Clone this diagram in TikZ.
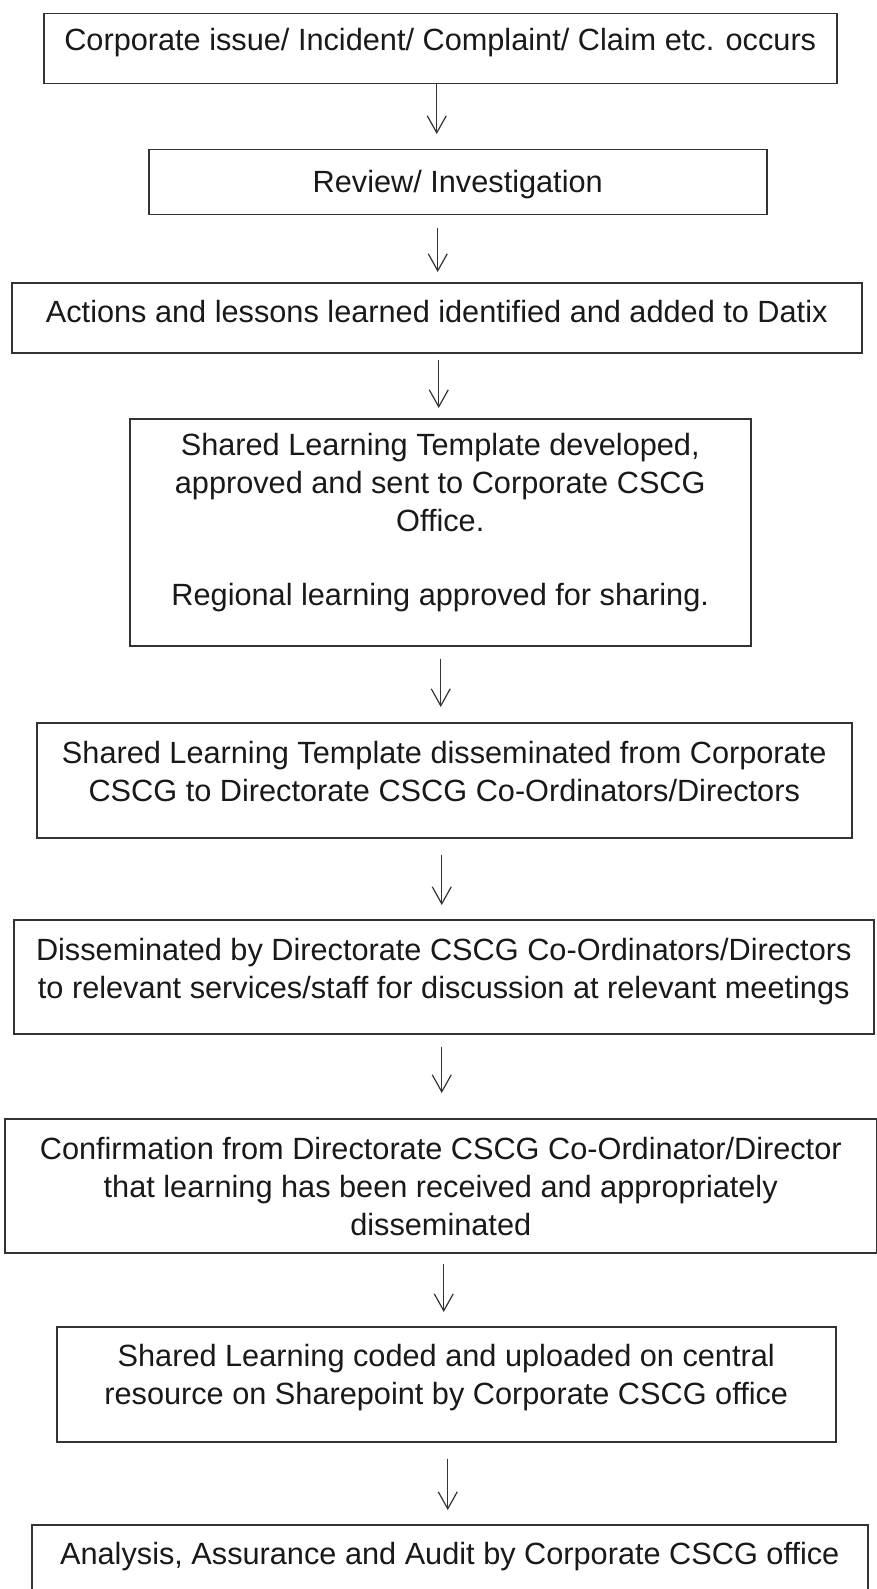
\documentclass[tikz,border=0pt]{standalone}
\usepackage{fontspec}
\setmainfont{Liberation Sans}
\usetikzlibrary{arrows.meta}

% box text: width, height, depth of first baseline, lines
\newcommand{\boxtext}[4]{\parbox[c][#2][t]{#1}{\centering\rule{0pt}{#3}#4}}

\begin{document}
\begin{tikzpicture}[x=1pt, y=-1pt,
        stepbox/.style={draw=black!80, line width=1.5pt, rectangle, inner sep=0pt,
            anchor=north west, text=black!90, font=\fontsize{30.7}{38}\selectfont},
        flow/.style={-{Straight Barb[length=17pt,width=19pt]}, line width=1.2pt, draw=black!80}]
    \useasboundingbox (0,0) rectangle (877,1589);

    \node[stepbox] (b1) at (43,13) {\boxtext{793pt}{70pt}{37pt}{Corporate issue/ Incident/ Complaint/ Claim etc. occurs}};
    \node[stepbox] (b2) at (148,149) {\boxtext{618pt}{65pt}{43pt}{Review/ Investigation}};
    \node[stepbox] (b3) at (11,282) {\boxtext{850pt}{70pt}{40pt}{Actions and lessons learned identified and added to Datix}};
    \node[stepbox] (b4) at (129,418) {\boxtext{621pt}{227pt}{37pt}{Shared Learning Template developed,\\
        approved and sent to Corporate CSCG\\ Office.\\[36pt] Regional learning approved for sharing.}};
    \node[stepbox] (b5) at (36,722) {\boxtext{815pt}{115pt}{41pt}{Shared Learning Template disseminated from Corporate\\
        CSCG to Directorate CSCG Co-Ordinators/Directors}};
    \node[stepbox] (b6) at (13,919) {\boxtext{860pt}{114pt}{41pt}{Disseminated by Directorate CSCG Co-Ordinators/Directors\\
        to relevant services/staff for discussion at relevant meetings}};
    \node[stepbox] (b7) at (4,1118) {\boxtext{872pt}{134pt}{41pt}{Confirmation from Directorate CSCG Co-Ordinator/Director\\
        that learning has been received and appropriately\\ disseminated}};
    \node[stepbox] (b8) at (56,1326) {\boxtext{779pt}{115pt}{40pt}{Shared Learning coded and uploaded on central\\
        resource on Sharepoint by Corporate CSCG office}};
    \node[stepbox] (b9) at (31,1524) {\boxtext{836pt}{68pt}{40pt}{Analysis, Assurance and Audit by Corporate CSCG office}};

    % arrows between the steps
    \draw[flow, shorten >=15pt] ([xshift=-3.5pt]b1.south) -- ([xshift=-21pt]b2.north);
    \draw[flow, shorten <=13pt, shorten >=10pt] ([xshift=-20pt]b2.south) -- ([xshift=1pt]b3.north);
    \draw[flow, shorten <=6pt, shorten >=10pt] ([xshift=2pt]b3.south) -- ([xshift=-1.5pt]b4.north);
    \draw[flow, shorten <=12pt, shorten >=15pt] ([xshift=0.5pt]b4.south) -- ([xshift=-3.5pt]b5.north);
    \draw[flow, shorten <=16pt, shorten >=14pt] ([xshift=-2.5pt]b5.south) -- ([xshift=-2pt]b6.north);
    \draw[flow, shorten <=12pt, shorten >=25pt] ([xshift=-2pt]b6.south) -- ([xshift=1pt]b7.north);
    \draw[flow, shorten <=10pt, shorten >=14pt] ([xshift=3pt]b7.south) -- ([xshift=-2.5pt]b8.north);
    \draw[flow, shorten <=16pt, shorten >=14pt] ([xshift=1.5pt]b8.south) -- ([xshift=-2pt]b9.north);
\end{tikzpicture}
\end{document}
